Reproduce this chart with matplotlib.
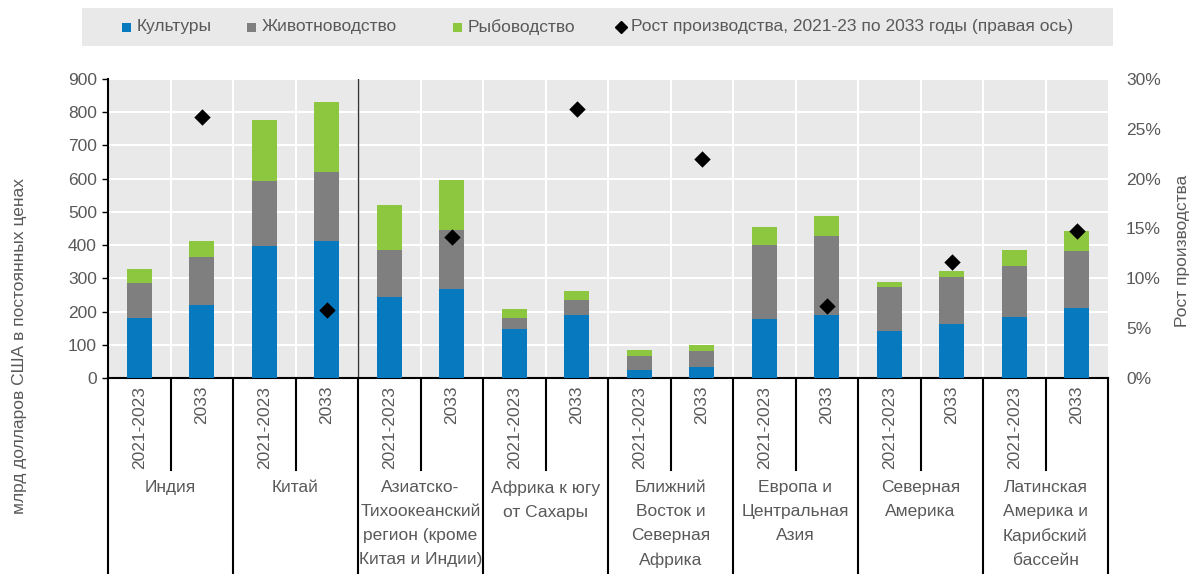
import matplotlib
matplotlib.use("Agg")
import matplotlib.pyplot as plt
import matplotlib.transforms as mtransforms
from matplotlib.patches import Rectangle
from matplotlib.lines import Line2D
import numpy as np

plt.rcParams['font.family'] = ['Liberation Sans', 'DejaVu Sans']

regions = ["Индия", "Китай", "Азиатско-\nТихоокеанский\nрегион (кроме\nКитая и Индии)",
           "Африка к югу\nот Сахары", "Ближний\nВосток и\nСеверная\nАфрика",
           "Европа и\nЦентральная\nАзия", "Северная\nАмерика",
           "Латинская\nАмерика и\nКарибский\nбассейн"]
periods = ["2021-2023", "2033"]

# Production value, bn USD constant prices (two bars per region: 2021-2023, 2033)
crops =     [182, 220, 398, 413, 243, 269, 147, 190, 25, 32, 177, 191, 140, 163, 184, 211]
livestock = [103, 145, 196, 208, 143, 177, 35, 46, 41, 50, 224, 237, 135, 142, 153, 170]
fish =      [43, 48, 182, 209, 135, 150, 25, 26, 17, 18, 54, 61, 15, 18, 48, 61]
# Production growth 2021-23 to 2033, % (right axis), one per region
growth = [26.2, 6.8, 14.1, 27.0, 22.0, 7.2, 11.6, 14.7]

labels_legend = ["Культуры", "Животноводство", "Рыбоводство",
                 "Рост производства, 2021-23 по 2033 годы (правая ось)"]

C_BLUE = "#0679BF"
C_GRAY = "#7F7F7F"
C_GREEN = "#8DC63F"
C_BG = "#E9E9E9"
C_TXT = "#595959"
FS = 12.5

W, H = 1196, 574
fig = plt.figure(figsize=(W / 100, H / 100), dpi=100)
L, R, B, T = 108, 1108, 378, 79
ax = fig.add_axes([L / W, 1 - B / H, (R - L) / W, (B - T) / H])
ax.set_facecolor(C_BG)

n = len(crops)
x = np.arange(n)
crops_a = np.array(crops)
live_a = np.array(livestock)
fish_a = np.array(fish)
bw = 0.4
ax.bar(x, crops_a, bw, color=C_BLUE, zorder=3)
ax.bar(x, live_a, bw, bottom=crops_a, color=C_GRAY, zorder=3)
ax.bar(x, fish_a, bw, bottom=crops_a + live_a, color=C_GREEN, zorder=3)

ax.set_xlim(-0.5, n - 0.5)
ax.set_ylim(0, 900)
ax.set_yticks(np.arange(0, 901, 100))
ax.set_xticks([])
for yv in np.arange(100, 901, 100):
    ax.axhline(yv, color="white", lw=1.5, zorder=1)
for xv in np.arange(0.5, n - 0.5, 1):
    ax.axvline(xv, color="white", lw=1.5, zorder=1)
ax.axvline(3.5, color="#333333", lw=1.0, zorder=2)

for s in ["top", "right"]:
    ax.spines[s].set_visible(False)
ax.spines["left"].set_color("black")
ax.spines["bottom"].set_color("black")
ax.spines["bottom"].set_linewidth(1.5)
ax.spines["left"].set_linewidth(1.5)
ax.tick_params(axis="y", colors="black", labelcolor=C_TXT, labelsize=FS,
               length=4, width=1, direction="out", pad=4)

ax2 = ax.twinx()
ax2.set_ylim(0, 30)
ax2.set_yticks(np.arange(0, 31, 5))
ax2.set_yticklabels([f"{v}%" for v in range(0, 31, 5)])
for s in ax2.spines.values():
    s.set_visible(False)
ax2.tick_params(axis="y", length=0, labelcolor=C_TXT, labelsize=FS, pad=13)
gx = x[1::2]
ax2.scatter(gx, growth, marker="D", s=70, color="black", zorder=5, linewidths=0)
fig.text(1183 / W, 1 - 251 / H, "Рост производства", rotation=90,
         ha="center", va="center", fontsize=FS, color=C_TXT)

# Category axis below the plot: separators, period labels and region labels
trans = mtransforms.blended_transform_factory(ax.transData, ax.transAxes)
ph = B - T
short_end = -(470 - B) / ph
long_end = -(H - B) / ph
for xv in np.arange(-0.5, n, 1):
    k = int(xv + 0.5)
    end = long_end if k % 2 == 0 else short_end
    ax.add_line(Line2D([xv, xv], [0, end], transform=trans, color="black",
                       lw=1.5, clip_on=False))
for i in range(n):
    ax.text(i, -(386 - B) / ph, periods[i % 2], transform=trans, rotation=90,
            ha="center", va="top", fontsize=FS, color=C_TXT)
for j, reg in enumerate(regions):
    ax.text(2 * j + 0.5, -(480 - B) / ph, reg, transform=trans, ha="center",
            va="top", fontsize=FS, color=C_TXT, linespacing=1.75)

fig.text(20 / W, 1 - 346 / H, "млрд долларов США в постоянных ценах", rotation=90,
         ha="center", va="center", fontsize=FS, color=C_TXT)

# Legend strip
fig.add_artist(Rectangle((82 / W, 1 - 46 / H), (1113 - 82) / W, 38 / H,
                         transform=fig.transFigure, facecolor=C_BG, edgecolor="none"))
ly = 1 - 27 / H
leg_x = [122, 247, 453]
leg_c = [C_BLUE, C_GRAY, C_GREEN]
for px, c, lab in zip(leg_x, leg_c, labels_legend[:3]):
    fig.add_artist(Rectangle((px / W, ly - 4.5 / H), 9 / W, 9 / H,
                             transform=fig.transFigure, facecolor=c, edgecolor="none"))
    fig.text((px + 15) / W, ly, lab, ha="left", va="center", fontsize=FS, color=C_TXT)
fig.add_artist(Line2D([621 / W], [ly], transform=fig.transFigure, marker="D",
                      markersize=6, color="black", linestyle="none"))
fig.text(631 / W, ly, labels_legend[3], ha="left", va="center", fontsize=FS, color=C_TXT)

fig.savefig("out.png", dpi=100)
